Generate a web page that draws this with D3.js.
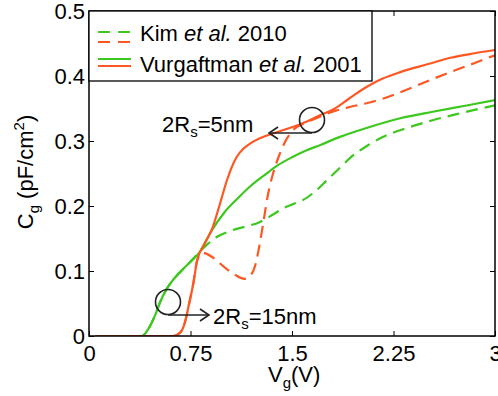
<!DOCTYPE html>
<html><head><meta charset="utf-8">
<script src="https://cdn.jsdelivr.net/npm/d3@7"></script>
<style>body{margin:0;background:#fff}svg{display:block;font-family:"Liberation Sans",Arial,sans-serif}</style>
</head><body><svg id="c" width="498" height="396"></svg>
<script>
// ---- data ----
const xTicks = [0, 0.75, 1.5, 2.25, 3];
const xTickLabels = ["0", "0.75", "1.5", "2.25", "3"];
const yTicks = [0, 0.1, 0.2, 0.3, 0.4, 0.5];
const yTickLabels = ["0", "0.1", "0.2", "0.3", "0.4", "0.5"];

// Vurgaftman et al. 2001, 2Rs = 15nm (green solid)
const vurg15V = [0.05,0.3,0.39,0.45,0.49,0.525,0.57,0.64,0.71,0.82,0.9,1.0,1.1,1.19,1.3,1.39,1.5,1.6,1.71,1.85,2.05,2.3,2.54,2.8,3.0];
const vurg15C = [0,0,0,0.015,0.033,0.052,0.071,0.091,0.106,0.13,0.16,0.19,0.212,0.23,0.248,0.262,0.275,0.285,0.294,0.306,0.32,0.335,0.345,0.355,0.363];
// Kim et al. 2010, 2Rs = 15nm (green dashed)
const kim15V = [0.05,0.3,0.39,0.45,0.49,0.525,0.57,0.64,0.71,0.82,0.88,0.95,1.05,1.15,1.26,1.36,1.44,1.51,1.58,1.68,1.76,1.85,1.93,2.05,2.17,2.35,2.54,2.75,3.0];
const kim15C = [0,0,0,0.015,0.033,0.052,0.071,0.091,0.106,0.13,0.142,0.153,0.162,0.168,0.175,0.187,0.197,0.203,0.209,0.224,0.24,0.258,0.274,0.292,0.306,0.32,0.332,0.343,0.355];
// Vurgaftman et al. 2001, 2Rs = 5nm (orange solid)
const vurg5V = [0.05,0.4,0.62,0.66,0.69,0.71,0.74,0.77,0.8,0.85,0.91,0.97,1.02,1.09,1.14,1.19,1.31,1.41,1.51,1.61,1.71,1.8,1.92,2.05,2.17,2.3,2.5,2.67,2.85,3.0];
const vurg5C = [0,0,0,0.003,0.01,0.022,0.05,0.08,0.117,0.14,0.165,0.205,0.24,0.275,0.288,0.296,0.308,0.315,0.322,0.33,0.34,0.348,0.365,0.383,0.396,0.406,0.418,0.428,0.435,0.44];
// Kim et al. 2010, 2Rs = 5nm (orange dashed)
const kim5V = [0.05,0.4,0.62,0.66,0.69,0.71,0.74,0.77,0.8,0.84,0.92,1.0,1.08,1.15,1.2,1.23,1.26,1.29,1.32,1.36,1.4,1.44,1.51,1.6,1.68,1.8,1.92,2.05,2.17,2.3,2.5,2.67,2.85,3.0];
const kim5C = [0,0,0,0.003,0.01,0.022,0.05,0.08,0.117,0.128,0.12,0.106,0.094,0.088,0.095,0.11,0.14,0.177,0.215,0.25,0.275,0.295,0.317,0.328,0.335,0.345,0.352,0.358,0.365,0.375,0.392,0.406,0.42,0.432];

const GREEN = "#3cc81e", ORANGE = "#ff5722";

// ---- layout ----
const svg = d3.select("#c");
const L = 89, R = 495, T = 11, B = 336;
const x = d3.scaleLinear().domain([0, 3]).range([L, R]);
const y = d3.scaleLinear().domain([0, 0.5]).range([B, T]);
const FS = 22;

const defs = svg.append("defs");
defs.append("clipPath").attr("id", "clip").append("rect")
  .attr("x", L).attr("y", T).attr("width", R - L).attr("height", B - T);

// axes (inward ticks)
const ax = (g) => { g.select(".domain").remove(); g.selectAll("line").attr("stroke", "#000").attr("stroke-width", 1); };
svg.append("g").attr("transform", `translate(0,${B})`)
  .call(d3.axisBottom(x).tickValues(xTicks).tickSize(-5).tickFormat((d, i) => xTickLabels[i]))
  .call(ax)
  .call(g => g.selectAll("text").attr("y", 25).attr("dy", 0).attr("fill", "#000")
    .style("font-size", FS + "px").style("font-family", '"Liberation Sans",Arial,sans-serif'));
svg.append("g").attr("transform", `translate(0,${T})`)
  .call(d3.axisTop(x).tickValues(xTicks).tickSize(-5).tickFormat(""))
  .call(ax);
svg.append("g").attr("transform", `translate(${L},0)`)
  .call(d3.axisLeft(y).tickValues(yTicks).tickSize(-5).tickFormat((d, i) => yTickLabels[i]))
  .call(ax)
  .call(g => g.selectAll("text").attr("x", -4).attr("dy", "0.36em").attr("fill", "#000")
    .style("font-size", FS + "px").style("font-family", '"Liberation Sans",Arial,sans-serif'));
svg.append("g").attr("transform", `translate(${R},0)`)
  .call(d3.axisRight(y).tickValues(yTicks).tickSize(-5).tickFormat(""))
  .call(ax);

// curves
const line = d3.line().x(d => x(d[0])).y(d => y(d[1])).curve(d3.curveMonotoneX);
const zip = (a, b) => a.map((v, i) => [v, b[i]]);
const series = [
  { v: kim15V, c: kim15C, color: GREEN, dash: "12,7" },
  { v: kim5V, c: kim5C, color: ORANGE, dash: "12,7" },
  { v: vurg15V, c: vurg15C, color: GREEN, dash: null },
  { v: vurg5V, c: vurg5C, color: ORANGE, dash: null },
];
const cg = svg.append("g").attr("clip-path", "url(#clip)");
series.forEach(s => {
  cg.append("path").datum(zip(s.v, s.c)).attr("d", line)
    .attr("fill", "none").attr("stroke", s.color).attr("stroke-width", 2.2)
    .attr("stroke-dasharray", s.dash);
});

// frame
svg.append("rect").attr("x", L).attr("y", T).attr("width", R - L).attr("height", B - T)
  .attr("fill", "none").attr("stroke", "#000").attr("stroke-width", 1.5);

// legend
const lg = svg.append("g");
lg.append("rect").attr("x", L).attr("y", T).attr("width", 283).attr("height", 70)
  .attr("fill", "#fff").attr("stroke", "#000").attr("stroke-width", 1.3);
const legItems = [
  { label: ["Kim ", "et al.", " 2010"], dash: "12,8", ys: [32, 42], base: 41 },
  { label: ["Vurgaftman ", "et al.", " 2001"], dash: null, ys: [59, 66], base: 72 },
];
legItems.forEach(it => {
  [GREEN, ORANGE].forEach((col, j) => {
    lg.append("line").attr("x1", 98).attr("x2", 131).attr("y1", it.ys[j]).attr("y2", it.ys[j])
      .attr("stroke", col).attr("stroke-width", 2.2).attr("stroke-dasharray", it.dash);
  });
  const t = lg.append("text").attr("x", 140).attr("y", it.base).style("font-size", FS + "px").attr("fill", "#000");
  t.append("tspan").text(it.label[0]);
  t.append("tspan").style("font-style", "italic").text(it.label[1]);
  t.append("tspan").text(it.label[2]);
});

// annotations
const ann = svg.append("g").attr("stroke", "#222").attr("stroke-width", 1.6).attr("fill", "none");
ann.append("circle").attr("cx", 168).attr("cy", 302).attr("r", 12.5);
ann.append("line").attr("x1", 168).attr("x2", 209).attr("y1", 315).attr("y2", 315);
ann.append("path").attr("d", "M200,309 L209,315 L200,321");
ann.append("circle").attr("cx", 312).attr("cy", 120).attr("r", 12.5);
ann.append("line").attr("x1", 312).attr("x2", 269).attr("y1", 133).attr("y2", 133);
ann.append("path").attr("d", "M278,127 L269,133 L278,139");

function rsLabel(xp, yp, tail) {
  const t = svg.append("text").attr("x", xp).attr("y", yp).style("font-size", FS + "px").attr("fill", "#000");
  t.append("tspan").text("2R");
  t.append("tspan").attr("dy", 5).style("font-size", "15px").text("s");
  t.append("tspan").attr("dy", -5).text(tail);
}
rsLabel(162, 132, "=5nm");
rsLabel(213, 324, "=15nm");

// axis labels
const xl = svg.append("text").attr("x", 268).attr("y", 382).style("font-size", FS + "px").attr("fill", "#000");
xl.append("tspan").text("V");
xl.append("tspan").attr("dy", 6).style("font-size", "15px").text("g");
xl.append("tspan").attr("dy", -6).text("(V)");

const yl = svg.append("text").attr("transform", "translate(33,172) rotate(-90)")
  .attr("text-anchor", "middle").style("font-size", FS + "px").attr("fill", "#000");
yl.append("tspan").text("C");
yl.append("tspan").attr("dy", 6).style("font-size", "15px").text("g");
yl.append("tspan").attr("dy", -6).text(" (pF/cm");
yl.append("tspan").attr("dy", -9).style("font-size", "15px").text("2");
yl.append("tspan").attr("dy", 9).text(")");
</script></body></html>
